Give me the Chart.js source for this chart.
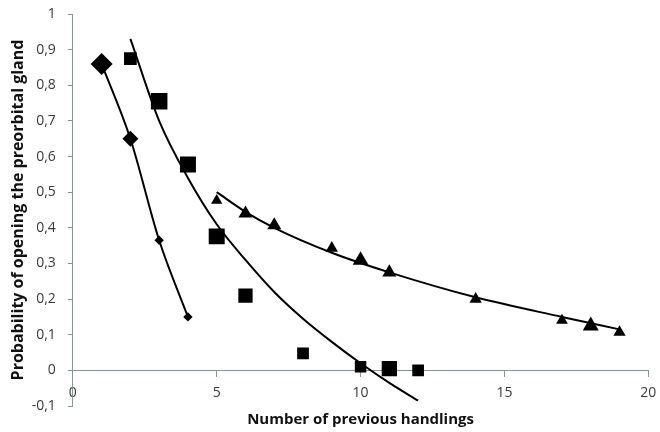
<!DOCTYPE html>
<html>
<head>
<meta charset="utf-8">
<script src="https://cdn.jsdelivr.net/npm/chart.js@4"></script>
<style>
  html, body { margin: 0; padding: 0; background: #fff; }
  #wrap { width: 660px; height: 432px; }
</style>
</head>
<body>
<div id="wrap"><canvas id="myChart"></canvas></div>
<script>
// diamonds
const diamondX = [1, 2, 3, 4];
const diamondY = [0.86, 0.65, 0.365, 0.15];
// squares
const squareX = [2, 3, 4, 5, 6, 8, 10, 11, 12];
const squareY = [0.875, 0.755, 0.578, 0.376, 0.21, 0.048, 0.01, 0.005, 0.0];
// triangles
const triangleX = [5, 6, 7, 9, 10, 11, 14, 17, 18, 19];
const triangleY = [0.477, 0.44, 0.407, 0.343, 0.309, 0.275, 0.2, 0.14, 0.125, 0.107];

// trend curves
const squareFitX = [2, 3, 4, 5, 6, 7, 8, 9, 10, 11, 12];
const squareFitY = [0.93, 0.70, 0.54, 0.41, 0.31, 0.22, 0.145, 0.08, 0.02, -0.035, -0.085];
const triangleFitX = [5, 6, 7, 9, 11, 14, 17, 19];
const triangleFitY = [0.50, 0.445, 0.40, 0.33, 0.275, 0.205, 0.15, 0.115];

const xTicks = [0, 5, 10, 15, 20];
const yTicks = [-0.1, 0, 0.1, 0.2, 0.3, 0.4, 0.5, 0.6, 0.7, 0.8, 0.9, 1];

// marker sizes (style only)
const diamondSize = [11, 8, 4.7, 4.7];
const squareSize = [9, 11.7, 11.3, 11.3, 10.1, 8.3, 8.1, 10.8, 8.3];
const triangleSize = [6.5, 8.1, 8.1, 7.1, 9.1, 8.1, 7.1, 6.8, 9.2, 7.1];

const axisColor = '#86979a';
const pts = (xs, ys) => xs.map((x, i) => ({ x: x, y: ys[i] }));
const fmt = v => String(Math.round(v * 10) / 10).replace('.', ',');

const ctx = document.getElementById('myChart');

new Chart(ctx, {
    type: 'scatter',
    data: {
        datasets: [{
            label: 'diamonds',
            data: pts(diamondX, diamondY),
            pointStyle: 'rectRot',
            pointRadius: diamondSize,
            backgroundColor: '#000',
            borderColor: '#000',
            borderWidth: 2,
            pointBorderWidth: 0,
            showLine: true,
            cubicInterpolationMode: 'monotone'
        }, {
            label: 'squares',
            data: pts(squareX, squareY),
            pointStyle: 'rect',
            pointRadius: squareSize,
            backgroundColor: '#000',
            borderColor: '#000',
            borderWidth: 0
        }, {
            label: 'triangles',
            data: pts(triangleX, triangleY),
            pointStyle: 'triangle',
            pointRadius: triangleSize,
            backgroundColor: '#000',
            borderColor: '#000',
            borderWidth: 0
        }, {
            label: 'squares fit',
            data: pts(squareFitX, squareFitY),
            showLine: true,
            pointRadius: 0,
            borderColor: '#000',
            borderWidth: 2,
            cubicInterpolationMode: 'monotone'
        }, {
            label: 'triangles fit',
            data: pts(triangleFitX, triangleFitY),
            showLine: true,
            pointRadius: 0,
            borderColor: '#000',
            borderWidth: 2,
            cubicInterpolationMode: 'monotone'
        }]
    },
    options: {
        responsive: true,
        maintainAspectRatio: false,
        animation: false,
        layout: {
            padding: { top: 14, left: 3, right: 9, bottom: 26 }
        },
        plugins: {
            legend: { display: false },
            tooltip: { enabled: false }
        },
        scales: {
            x: {
                type: 'linear',
                min: 0,
                max: 20,
                position: { y: 0 },
                afterBuildTicks: (scale) => {
                    scale.ticks = xTicks.map(v => ({ value: v }));
                },
                // let the layout padding alone decide the plot edges
                afterFit: (scale) => {
                    scale.paddingLeft = 0;
                    scale.paddingRight = 0;
                },
                ticks: {
                    padding: 8,
                    color: '#3a3a3a',
                    font: { family: 'Open Sans', size: 14 }
                },
                grid: {
                    drawOnChartArea: false,
                    tickLength: 6,
                    color: axisColor
                },
                border: { color: axisColor, width: 1 },
                title: {
                    display: true,
                    text: 'Number of previous handlings',
                    color: '#111',
                    padding: { top: 2, bottom: 0 },
                    font: { family: 'Open Sans', size: 15, weight: 'bold' }
                }
            },
            y: {
                type: 'linear',
                min: -0.1,
                max: 1,
                afterBuildTicks: (scale) => {
                    scale.ticks = yTicks.map(v => ({ value: v }));
                },
                afterFit: (scale) => {
                    scale.paddingTop = 0;
                    scale.paddingBottom = 0;
                },
                ticks: {
                    padding: 12,
                    color: '#3a3a3a',
                    font: { family: 'Open Sans', size: 14 },
                    callback: (v) => fmt(v)
                },
                grid: {
                    drawOnChartArea: false,
                    tickLength: 5,
                    color: axisColor
                },
                border: { color: axisColor, width: 1 },
                title: {
                    display: true,
                    text: 'Probability of opening the preorbital gland',
                    color: '#111',
                    padding: { top: 6, bottom: -8.5 },
                    font: { family: 'Open Sans', size: 16, weight: 'bold' }
                }
            }
        }
    }
});
</script>
</body>
</html>
